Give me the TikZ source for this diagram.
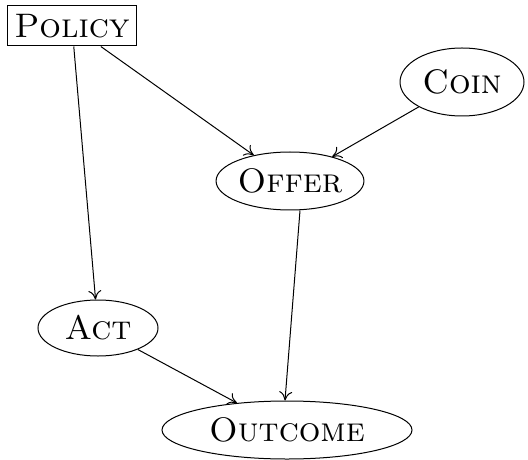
\documentclass[tikz,border=0pt]{standalone}
\usepackage{tikz}
\usetikzlibrary{shapes.geometric,arrows.meta}
\begin{document}
\begin{tikzpicture}[x=0.5pt,y=-0.5pt,>={To[length=4.5pt,width=6.5pt]},line width=0.5pt,
  chanceNode/.style={ellipse,draw,inner sep=0pt,font=\fontsize{17}{20}\selectfont\scshape},
  policyNode/.style={rectangle,draw,inner sep=0pt,font=\fontsize{17}{20}\selectfont\scshape}]
  \useasboundingbox (0,0) rectangle (528,459);
  \node[policyNode,minimum width=64.5pt,minimum height=20pt] (policy) at (72,26) {Policy};
  \node[chanceNode,minimum width=62pt,minimum height=34pt] (coin) at (462,82) {Coin};
  \node[chanceNode,minimum width=67.5pt,minimum height=29pt] (offer) at (290,181) {Offer};
  \node[chanceNode,minimum width=60pt,minimum height=28pt] (act) at (98,328) {Act};
  \node[chanceNode,minimum width=125pt,minimum height=29pt] (outcome) at (287,430) {Outcome};
  \draw[->] (policy) -- (offer);
  \draw[->] (policy) -- (act);
  \draw[->] (coin) -- (offer);
  \draw[->] ([xshift=5pt]offer.south) -- ([xshift=-1pt]outcome.north);
  \draw[->] (act) -- (outcome);
\end{tikzpicture}
\end{document}
